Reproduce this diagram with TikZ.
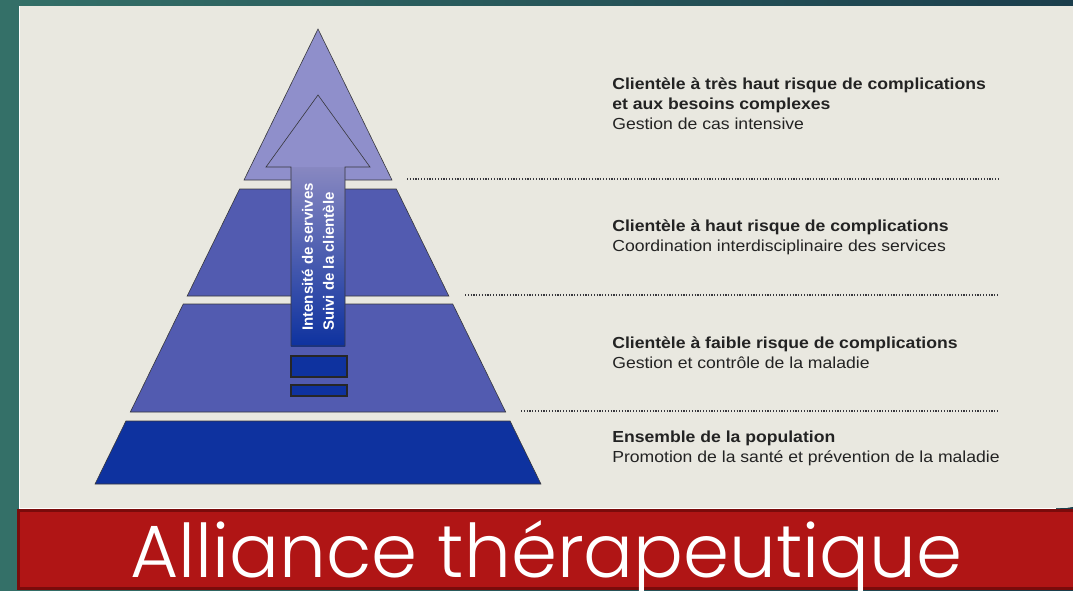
\documentclass[tikz,border=0pt]{standalone}
\usepackage{fontspec}
\usepackage{tikz}
\usepackage{color}
\usetikzlibrary{calc,shapes}
\setmainfont{Liberation Sans}[FakeStretch=1.1]
\newfontfamily\arrowfont{Liberation Sans}
\newfontfamily\titlefont{Poppins}[UprightFont=* Light]

\definecolor{tealL}{RGB}{52,112,104}
\definecolor{tealR}{RGB}{27,62,76}
\definecolor{panelbeige}{RGB}{233,232,224}
\definecolor{topviolet}{RGB}{143,143,203}
\definecolor{midviolet}{RGB}{82,91,176}
\definecolor{baseblue}{RGB}{14,50,159}
\definecolor{edgegray}{RGB}{55,55,60}
\definecolor{textgray}{RGB}{35,35,35}
\definecolor{alliancered}{RGB}{176,21,21}
\definecolor{alliancedark}{RGB}{122,11,11}

% one band of the pyramid: top y, bottom y, colour
\newcommand{\tikzLayer}[3]{
  \path[draw=edgegray,fill=#3] ({318-(#1-29)*0.49},#1) -- ({318+(#1-29)*0.49},#1)
    -- ({318+(#2-29)*0.49},#2) -- ({318-(#2-29)*0.49},#2) -- cycle;
}

\begin{document}
\begin{tikzpicture}[x=1pt, y=-1pt, semithick,
  lvlhead/.style={anchor=base west, inner sep=0pt, text=textgray, font=\bfseries\fontsize{16}{20}\selectfont},
  lvldesc/.style={anchor=base west, inner sep=0pt, text=textgray, font=\fontsize{16}{20}\selectfont},
  sepline/.style={draw=edgegray, line width=1.2pt, dash pattern=on 1.2pt off 1.6pt},
  bar/.style={draw=black!85, line width=1.5pt, fill=baseblue, rectangle, inner sep=0pt, minimum width=56pt}]
  \useasboundingbox (0,0) rectangle (1073,590);

  % slide background and panel
  \shade[left color=tealL, right color=tealR] (0,0) rectangle (1073,590);
  \fill[panelbeige] (19,6) -- (1078,6) -- (1078,486) .. controls (1078,508) .. (1056,508) -- (19,508) -- cycle;
  \draw[white, line width=1.5pt] (19.5,6) -- (19.5,508.5) -- (1056,508.5);

  % pyramid
  \path[draw=edgegray,fill=topviolet] (318,29) -- ({318+151*0.49},180) -- ({318-151*0.49},180) -- cycle;
  \tikzLayer{189}{296}{midviolet}
  \tikzLayer{304}{412}{midviolet}
  \tikzLayer{421}{484}{baseblue}

  % arrow
  \shade[top color=topviolet!95!black, bottom color=baseblue] (291,167) rectangle (345,346);
  \fill[topviolet] (318,95) -- (370,167) -- (266,167) -- cycle;
  \draw[edgegray] (318,95) -- (370,167) -- (345,167) -- (345,346) -- (291,346) -- (291,167) -- (266,167) -- cycle;
  \node[rotate=90, anchor=west, align=left, inner sep=0pt, text=white,
        font=\arrowfont\bfseries\fontsize{15}{21}\selectfont] (arrowtxt) at (318,331)
        {Intensité de servives\\Suivi de la clientèle};
  \node[bar, minimum height=21pt] (bar1) at (319,366.5) {};
  \node[bar, minimum height=11pt] (bar2) at (319,390.5) {};

  % separators
  \coordinate (s1a) at (407,179);  \coordinate (s1b) at (999,179);
  \coordinate (s2a) at (465,295);  \coordinate (s2b) at (999,295);
  \coordinate (s3a) at (521,411);  \coordinate (s3b) at (999,411);
  \draw[sepline] (s1a) -- (s1b);
  \draw[sepline] (s2a) -- (s2b);
  \draw[sepline] (s3a) -- (s3b);

  % level texts
  \node[lvlhead] (h1) at (612,89) {Clientèle à très haut risque de complications};
  \node[lvlhead] (h1b) at (612,109) {et aux besoins complexes};
  \node[lvldesc] (d1) at (612,129) {Gestion de cas intensive};
  \node[lvlhead] (h2) at (612,231) {Clientèle à haut risque de complications};
  \node[lvldesc] (d2) at (612,251) {Coordination interdisciplinaire des services};
  \node[lvlhead] (h3) at (612,348) {Clientèle à faible risque de complications};
  \node[lvldesc] (d3) at (612,368) {Gestion et contrôle de la maladie};
  \node[lvlhead] (h4) at (612,442) {Ensemble de la population};
  \node[lvldesc] (d4) at (612,462) {Promotion de la santé et prévention de la maladie};

  % title bar
  \path[fill=alliancered, draw=alliancedark, line width=3pt] (18.5,510.5) rectangle (1080,588.5);
  \node[anchor=base west, inner sep=0pt, text=white, font=\titlefont\fontsize{74}{80}\selectfont] (title) at (130,577) {Alliance thérapeutique};
\end{tikzpicture}
\end{document}
